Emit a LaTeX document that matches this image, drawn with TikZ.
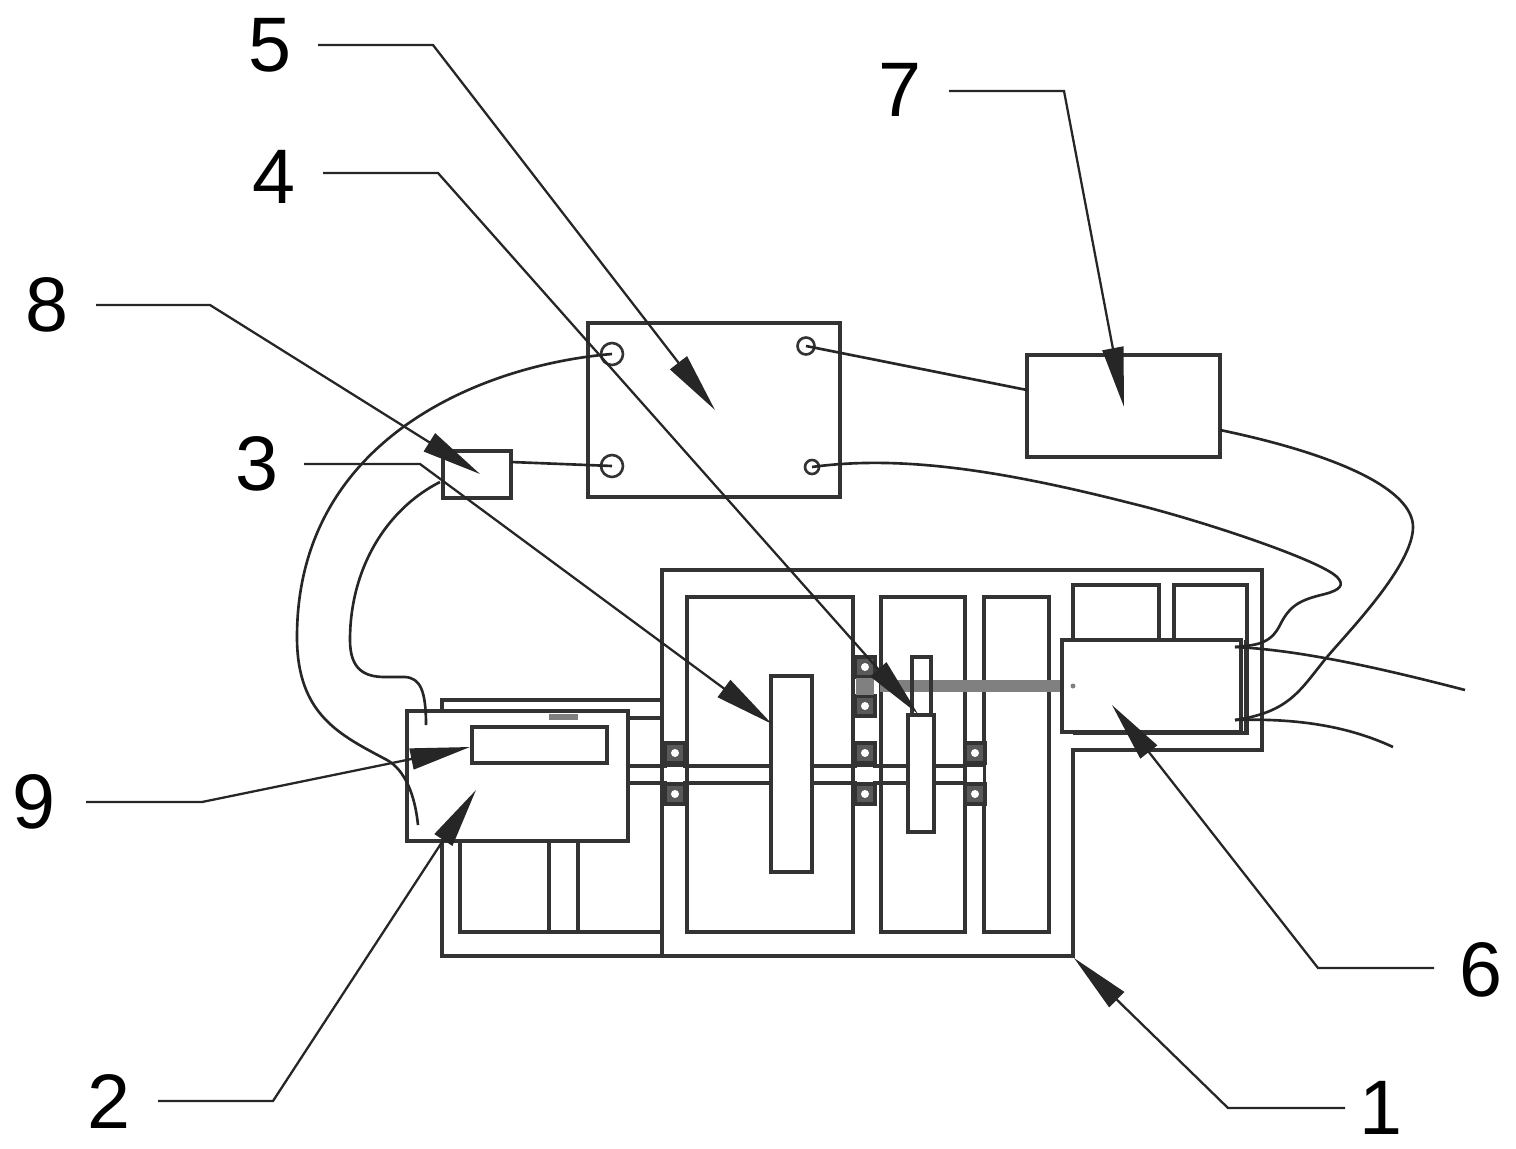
\documentclass[tikz,border=0pt]{standalone}
\usepackage{fontspec}
\setmainfont{Liberation Sans}
\usetikzlibrary{arrows.meta}
\definecolor{linegray}{gray}{0.2}
\tikzset{
  part/.style={draw=linegray,line width=1.8pt},
  boxnode/.style={draw=linegray,line width=1.8pt,inner sep=0pt},
  port/.style={circle,draw=linegray,line width=1.5pt,inner sep=0pt},
  wire/.style={line width=1.5pt,black!85},
  leader/.style={line width=1.3pt,black!85,-{Triangle[length=34pt,width=12pt]}},
  numlabel/.style={inner sep=0pt,font=\fontsize{44}{44}\selectfont,text=black},
}
\begin{document}
\begin{tikzpicture}[x=0.02cm,y=-0.02cm]
    \useasboundingbox (0,0) rectangle (1516,1149);
    % housing
    \draw[part] (662,700) -- (442,700) -- (442,956) -- (1073,956) -- (1073,750) -- (1262,750) -- (1262,570) -- (662,570) -- (662,956);
    \draw[part] (460,842) -- (460,932) -- (662,932);
    \draw[part] (549,842) -- (549,932) (578,842) -- (578,932);
    \draw[part] (628,718) -- (662,718);
    \draw[part] (687,597) rectangle (853,932);
    \draw[part] (881,597) rectangle (965,932);
    \draw[part] (984,597) rectangle (1049,932);
    \draw[part] (1073,640) -- (1073,585) -- (1159,585) -- (1159,640);
    \draw[part] (1174,640) -- (1174,585) -- (1247,585) -- (1247,733) -- (1073,733);
    % shafts
    \draw[part] (628,766) -- (984,766) (628,783) -- (984,783);
    \fill[gray] (880,680) rectangle (1062,692);
    % gears
    \node[boxnode,fill=white,minimum width=0.82cm,minimum height=3.92cm] (biggear) at (791.5,774) {};
    \node[boxnode,fill=white,minimum width=0.52cm,minimum height=2.34cm] (smallgear) at (921,773.5) {};
    \node[boxnode,minimum width=0.38cm,minimum height=1.16cm] (uppergear) at (921.5,686) {};
    % bearings
    \foreach \x in {675,865,975}
    {
      \foreach \y in {753,794}
      {
        \draw[line width=1.8pt,linegray,fill=black!65] ({\x-10},{\y-10}) rectangle ({\x+10},{\y+10});
        \fill[white] (\x,\y) circle (4);
      }
      \fill[white] ({\x-8},767) rectangle ({\x+8},782);
    }
    \foreach \y in {667,706}
    {
      \draw[line width=1.8pt,linegray,fill=black!65] (855,{\y-10}) rectangle (875,{\y+10});
      \fill[white] (865,\y) circle (4);
    }
    \fill[gray] (856,678) rectangle (874,695);
    % motor and gearbox
    \node[boxnode,fill=white,minimum width=4.42cm,minimum height=2.6cm] (drivebox) at (517.5,776) {};
    \node[boxnode,minimum width=2.7cm,minimum height=0.72cm] (display) at (539.5,745) {};
    \fill[gray] (549,714) rectangle (578,720);
    \node[boxnode,fill=white,minimum width=3.58cm,minimum height=1.84cm] (motor) at (1151.5,686) {};
    \fill[gray] (1073,686) circle (2.5);
    \draw[part] (1246,640) -- (1246,733);
    % control boxes
    \node[boxnode,minimum width=5.04cm,minimum height=3.48cm] (controller) at (714,410) {};
    \node[boxnode,minimum width=3.86cm,minimum height=2.04cm] (powerbox) at (1123.5,406) {};
    \node[boxnode,minimum width=1.36cm,minimum height=0.94cm] (sensor) at (477,474.5) {};
    \node[port,minimum size=0.44cm] (portA) at (612,354) {};
    \node[port,minimum size=0.44cm] (portB) at (612,466) {};
    \node[port,minimum size=0.34cm] (portC) at (806,346) {};
    \node[port,minimum size=0.28cm] (portD) at (812,467) {};
    % wires
    \coordinate (sensorR) at (511,462);
    \coordinate (sensorL) at (440,482);
    \coordinate (powerL) at (1027,390);
    \coordinate (powerR) at (1220,430);
    \coordinate (motorT) at (1235,647);
    \coordinate (motorB) at (1235,720);
    \coordinate (endT) at (1465,690);
    \coordinate (endB) at (1393,747);
    \coordinate (driveA) at (418,825);
    \coordinate (driveB) at (426,725);
    \draw[wire] (sensorR) -- (portB.center);
    \draw[wire] (portC.center) -- (powerL);
    \draw[wire] (portA.center) .. controls (480,365) and (297,440) .. (297,637) .. controls (297,715) and (340,735) .. (387,760) .. controls (405,770) and (415,795) .. (driveA);
    \draw[wire] (sensorL) .. controls (385,510) and (350,570) .. (350,640) .. controls (350,670) and (365,677) .. (385,677) -- (405,677) .. controls (420,678) and (426,690) .. (driveB);
    \draw[wire] (powerR) .. controls (1340,455) and (1413,490) .. (1413,527) .. controls (1413,565) and (1350,630) .. (1327,657) .. controls (1300,690) and (1290,712) .. (motorB);
    \draw[wire] (portD.center) .. controls (900,455) and (1000,470) .. (1130,503) .. controls (1200,520) and (1320,560) .. (1337,577) .. controls (1345,585) and (1340,590) .. (1325,594) .. controls (1300,600) and (1290,605) .. (1280,625) .. controls (1270,645) and (1255,645) .. (motorT);
    \draw[wire] (motorT) .. controls (1300,650) and (1380,668) .. (endT);
    \draw[wire] (motorB) .. controls (1300,718) and (1350,727) .. (endB);
    % reference numbers
    \foreach \lab/\lx/\ly/\dx/\dy/\kx/\tx/\ty in {
      5/270/45/48/0/433/715/410,
      4/274/177/49/-4/438/918/714,
      7/900/90/49/1/1064/1124/407,
      8/47/305/49/0/210/480/474,
      3/257/464/47/0/420/772/724,
      9/34/802/52/0/202/470/747,
      2/109/1102/49/-1/273/476/790,
      1/1381/1108/-36/0/1228/1074/958,
      6/1481/970/-47/-2/1318/1112/705}
    {
      \node[numlabel] (num\lab) at (\lx,\ly) {\lab};
      \coordinate (tip\lab) at (\tx,\ty);
      \draw[leader] (num\lab.center) ++(\dx,\dy) -- (\kx,{\ly+\dy}) -- (tip\lab);
    }
  \end{tikzpicture}
\end{document}
